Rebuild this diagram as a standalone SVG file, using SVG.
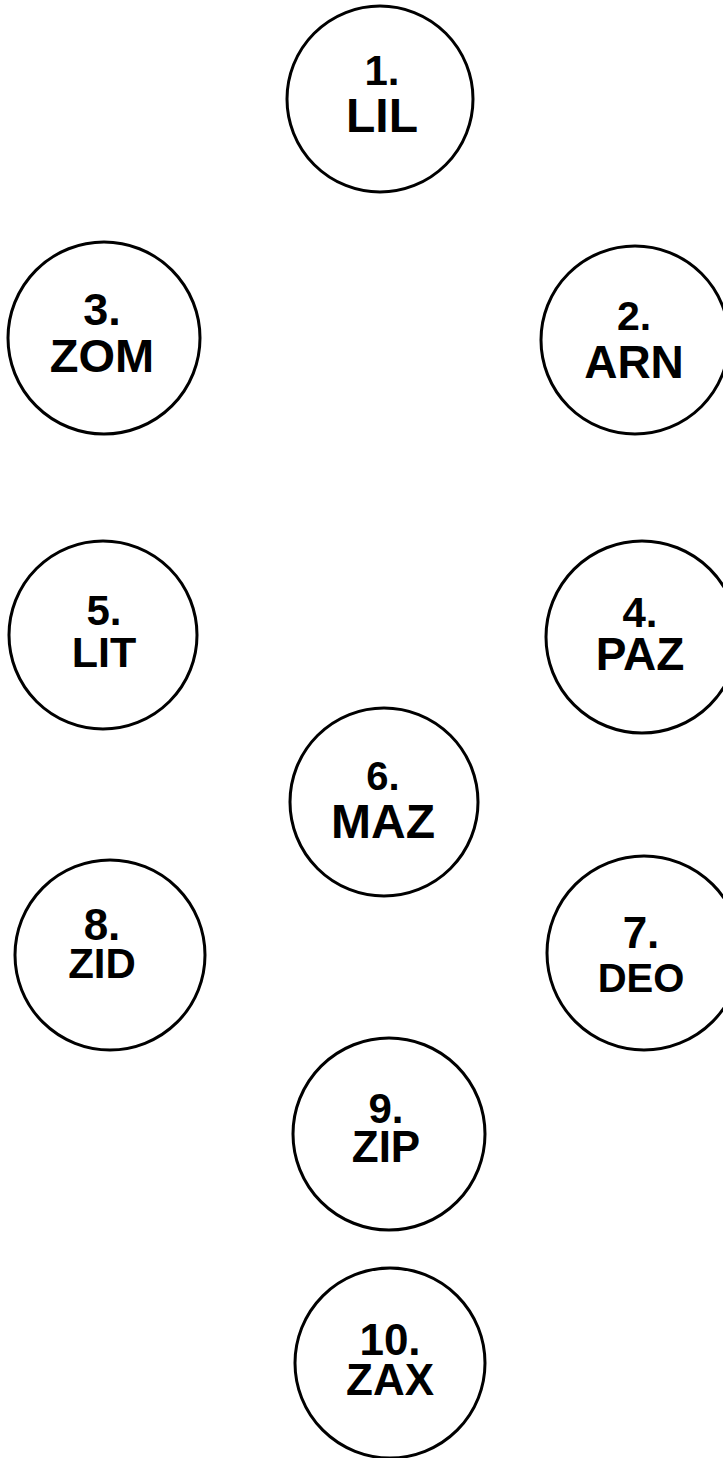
<svg xmlns="http://www.w3.org/2000/svg" width="723" height="1458" viewBox="0 0 723 1458">
<style>
.n circle{fill:#fff;stroke:#000;stroke-width:3}
.n text{font-family:"Liberation Sans",Arial,sans-serif;font-weight:bold;text-anchor:middle;fill:#000}
</style>
<rect width="723" height="1458" fill="#fff"/>
<g id="connectors"></g>
<g id="node1" class="n"><circle cx="380" cy="99" r="93"/><text x="382" y="85" font-size="42">1.</text><text x="382" y="132" font-size="48">LIL</text></g>
<g id="node2" class="n"><circle cx="635" cy="340" r="94"/><text x="634" y="330" font-size="41">2.</text><text x="634" y="378" font-size="46">ARN</text></g>
<g id="node3" class="n"><circle cx="104" cy="338" r="96"/><text x="102" y="325" font-size="45">3.</text><text x="102" y="372" font-size="47">ZOM</text></g>
<g id="node4" class="n"><circle cx="642" cy="637" r="96"/><text x="640" y="627" font-size="42">4.</text><text x="640" y="670" font-size="46">PAZ</text></g>
<g id="node5" class="n"><circle cx="103" cy="635" r="94"/><text x="104" y="625" font-size="42">5.</text><text x="104" y="667" font-size="43">LIT</text></g>
<g id="node6" class="n"><circle cx="384" cy="802" r="94"/><text x="383" y="790" font-size="40">6.</text><text x="383" y="838" font-size="48">MAZ</text></g>
<g id="node7" class="n"><circle cx="644" cy="953" r="97"/><text x="641" y="948" font-size="44">7.</text><text x="641" y="992" font-size="40">DEO</text></g>
<g id="node8" class="n"><circle cx="110" cy="955" r="95"/><text x="102" y="940" font-size="44">8.</text><text x="102" y="978" font-size="42">ZID</text></g>
<g id="node9" class="n"><circle cx="389" cy="1134" r="96"/><text x="386" y="1123" font-size="42">9.</text><text x="386" y="1162" font-size="44">ZIP</text></g>
<g id="node10" class="n"><circle cx="390" cy="1363" r="95"/><text x="390" y="1355" font-size="44">10.</text><text x="390" y="1395" font-size="44">ZAX</text></g>
</svg>
